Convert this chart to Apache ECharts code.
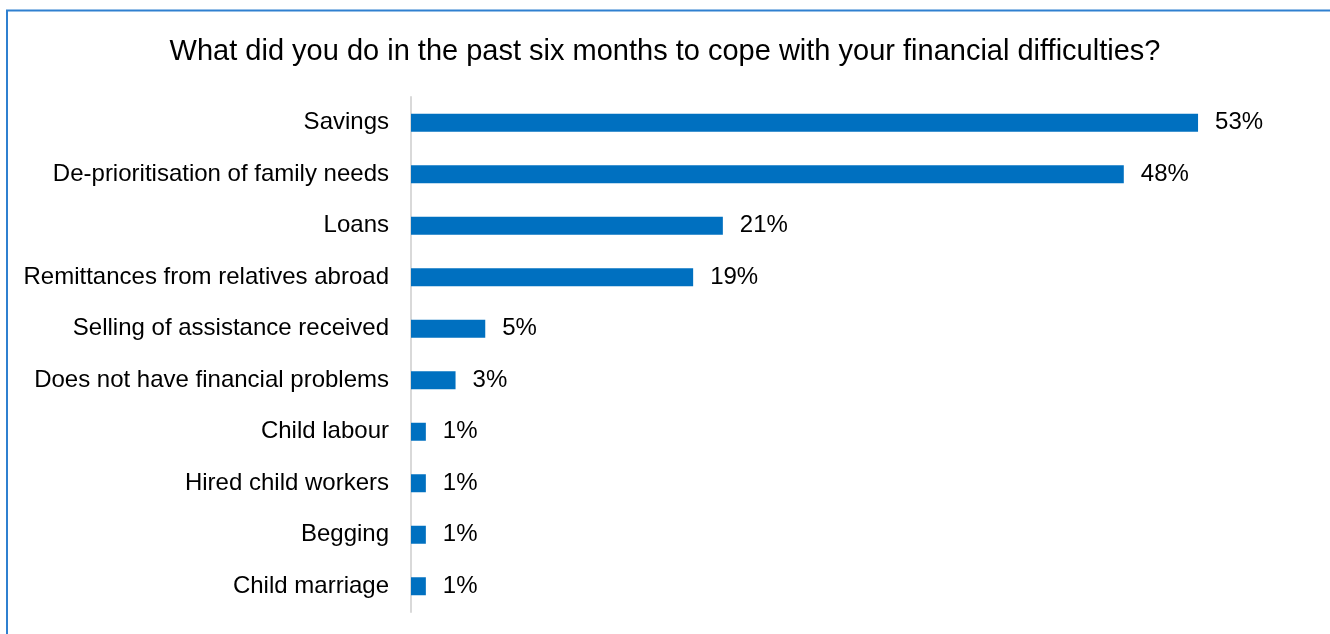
<!DOCTYPE html>
<html>
<head>
<meta charset="utf-8">
<script src="https://cdn.jsdelivr.net/npm/echarts@6/dist/echarts.min.js"></script>
<style>
html,body{margin:0;padding:0;background:#fff;}
#c{width:1330px;height:634px;}
</style>
</head>
<body>
<div id="c"></div>
<script>
const titleText = 'What did you do in the past six months to cope with your financial difficulties?';
const categories = ['Savings','De-prioritisation of family needs','Loans','Remittances from relatives abroad','Selling of assistance received','Does not have financial problems','Child labour','Hired child workers','Begging','Child marriage'];
const values = [53,48,21,19,5,3,1,1,1,1];

const chart = echarts.init(document.getElementById('c'));
chart.setOption({
  animation:false,
  backgroundColor:'#fff',
  title:{text:titleText,left:'center',top:32,textStyle:{fontFamily:'Liberation Sans, Arial',fontSize:29,fontWeight:'normal',color:'#000'}},
  graphic:[{type:'polyline',shape:{points:[[7,700],[7,10.5],[1340,10.5]]},style:{stroke:'#2F80D0',lineWidth:2,fill:null},silent:true}],
  grid:{left:411,right:28,top:97,bottom:22,containLabel:false},
  xAxis:{type:'value',min:0,max:60,show:false},
  yAxis:{type:'category',data:categories,inverse:true,
    axisLine:{show:true,lineStyle:{color:'#d9d9d9',width:2}},
    axisTick:{show:false},
    axisLabel:{margin:22,fontFamily:'Liberation Sans, Arial',fontSize:24,color:'#000',padding:[3,0,0,0]}},
  series:[{type:'bar',data:values,barWidth:18,itemStyle:{color:'#0070C0'},
    label:{show:true,position:'right',distance:17,formatter:p=>p.value+'%',fontFamily:'Liberation Sans, Arial',fontSize:24,color:'#000',padding:[3,0,0,0]}}]
});
</script>
</body>
</html>
